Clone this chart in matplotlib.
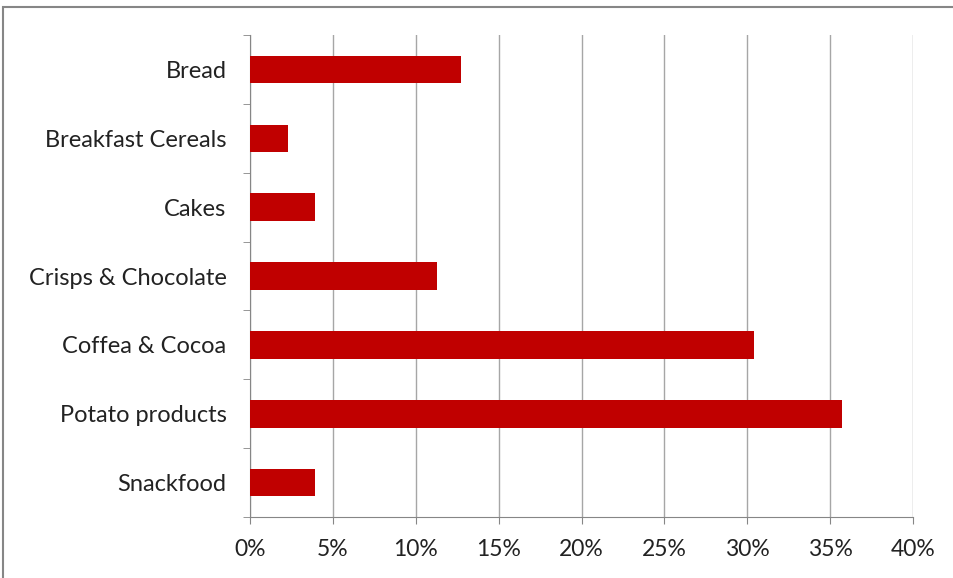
import numpy as np
import matplotlib.pyplot as plt
from matplotlib.ticker import FuncFormatter, FixedLocator
from matplotlib.patches import Rectangle

categories = ["Bread", "Breakfast Cereals", "Cakes", "Crisps & Chocolate",
              "Coffea & Cocoa", "Potato products", "Snackfood"]
shares = [12.7, 2.3, 3.9, 11.3, 30.4, 35.7, 3.9]

plt.rcParams['font.family'] = ['Lato', 'DejaVu Sans']

fig = plt.figure(figsize=(9.54, 5.78), dpi=100)
ax = fig.add_axes([0.2621, 0.1055, 0.6950, 0.8339])

y = np.arange(len(categories))
ax.barh(y, shares, height=0.4, color='#C00000', zorder=3)
ax.set_ylim(len(categories) - 0.5, -0.5)
ax.set_xlim(0, 40)

ax.set_yticks(y)
ax.set_yticklabels(categories, fontsize=17, color='#222222')
ax.yaxis.set_minor_locator(FixedLocator(np.arange(-0.5, len(categories), 1)))
ax.tick_params(axis='y', which='major', length=0, pad=17)
ax.tick_params(axis='y', which='minor', length=5, color='#868686')

ax.set_xticks(np.arange(0, 41, 5))
ax.xaxis.set_major_formatter(FuncFormatter(lambda v, p: f"{v:.0f}%"))
ax.tick_params(axis='x', length=5, color='#868686', labelsize=16.5,
               labelcolor='#222222', pad=11)
ax.grid(axis='x', color='#A6A6A6', linewidth=1, zorder=0)

for side in ['top', 'right']:
    ax.spines[side].set_visible(False)
for side in ['left', 'bottom']:
    ax.spines[side].set_color('#868686')

fig.patches.append(Rectangle((3 / 954, -0.1), 1.2, 1 - 7 / 578 + 0.1,
                             transform=fig.transFigure, fill=False,
                             edgecolor='#868686', linewidth=1.5))

fig.savefig('out.png', dpi=100)
